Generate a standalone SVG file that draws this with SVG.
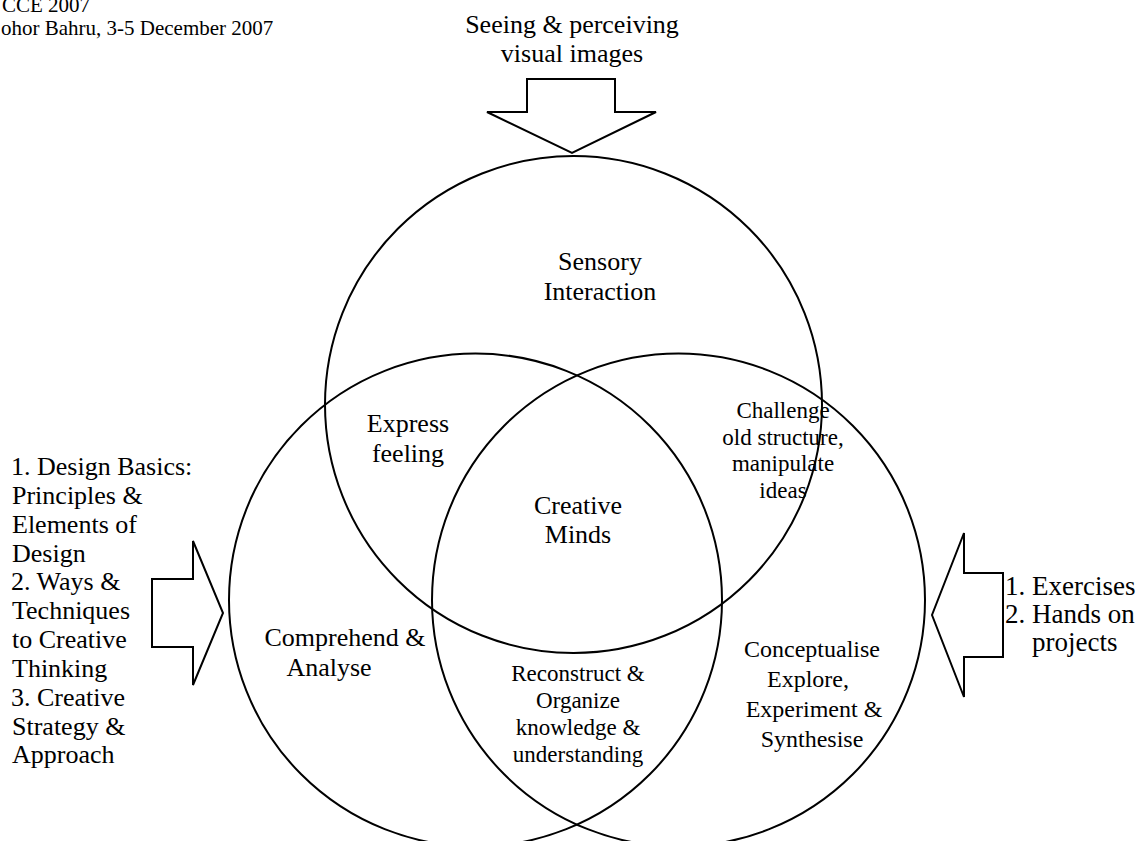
<svg xmlns="http://www.w3.org/2000/svg" width="1147" height="841" viewBox="0 0 1147 841">
<style>
.c{fill:none;stroke:#000;stroke-width:2}
.a{fill:#fff;stroke:#000;stroke-width:2;stroke-linejoin:miter}
text{font-family:"Liberation Serif","Times New Roman",serif;fill:#000}
.L{font-size:26px;text-anchor:middle}
.S{font-size:23px;text-anchor:middle}
.M{font-size:24px;text-anchor:middle}
.T{font-size:26px}
.R{font-size:27px}
.H{font-size:21px}
</style>
<rect width="1147" height="841" fill="#fff"/>
<g id="header">
<text class="H" x="2" y="12">CCE 2007</text>
<text class="H" x="1" y="35">ohor Bahru, 3-5 December 2007</text>
</g>
<g id="connectors">
<path class="a" d="M527,79 L615,79 L615,112 L656,112 L572,153 L487,112 L527,112 Z"/>
<path class="a" d="M152,579 L193,579 L193,541 L223,613 L193,685 L193,647 L152,647 Z"/>
<path class="a" d="M1003,573 L964,573 L964,533 L932,615 L964,697 L964,657 L1003,657 Z"/>
</g>
<g id="sensory">
<circle class="c" cx="573.5" cy="404.5" r="248.5"/>
<text class="L" x="600" y="270">Sensory</text>
<text class="L" x="600" y="300">Interaction</text>
</g>
<g id="comprehend">
<circle class="c" cx="475.5" cy="600" r="246.5"/>
<text class="L" x="345" y="646">Comprehend &amp;</text>
<text class="L" x="329" y="676">Analyse</text>
</g>
<g id="conceptualise">
<circle class="c" cx="678.5" cy="600" r="246.5"/>
<text class="M" x="812" y="657">Conceptualise</text>
<text class="M" x="808" y="687">Explore,</text>
<text class="M" x="814" y="717">Experiment &amp;</text>
<text class="M" x="812" y="747">Synthesise</text>
</g>
<g id="express">
<text class="L" x="408" y="432">Express</text>
<text class="L" x="408" y="462">feeling</text>
</g>
<g id="challenge">
<text class="S" x="783" y="418">Challenge</text>
<text class="S" x="783" y="445">old structure,</text>
<text class="S" x="783" y="471">manipulate</text>
<text class="S" x="783" y="498">ideas</text>
</g>
<g id="creative">
<text class="L" x="578" y="514">Creative</text>
<text class="L" x="578" y="543">Minds</text>
</g>
<g id="reconstruct">
<text class="S" x="578" y="681">Reconstruct &amp;</text>
<text class="S" x="578" y="708">Organize</text>
<text class="S" x="578" y="735">knowledge &amp;</text>
<text class="S" x="578" y="762">understanding</text>
</g>
<g id="top-input">
<text class="L" x="572" y="33">Seeing &amp; perceiving</text>
<text class="L" x="572" y="62">visual images</text>
</g>
<g id="left-input">
<text class="T" x="11" y="475">1. Design Basics:</text>
<text class="T" x="12" y="504">Principles &amp;</text>
<text class="T" x="12" y="533">Elements of</text>
<text class="T" x="12" y="562">Design</text>
<text class="T" x="11" y="590">2. Ways &amp;</text>
<text class="T" x="12" y="619">Techniques</text>
<text class="T" x="12" y="648">to Creative</text>
<text class="T" x="12" y="677">Thinking</text>
<text class="T" x="11" y="706">3. Creative</text>
<text class="T" x="12" y="735">Strategy &amp;</text>
<text class="T" x="12" y="763">Approach</text>
</g>
<g id="right-input">
<text class="R" x="1005" y="595">1. Exercises</text>
<text class="R" x="1005" y="623">2. Hands on</text>
<text class="R" x="1032" y="651">projects</text>
</g>
</svg>
